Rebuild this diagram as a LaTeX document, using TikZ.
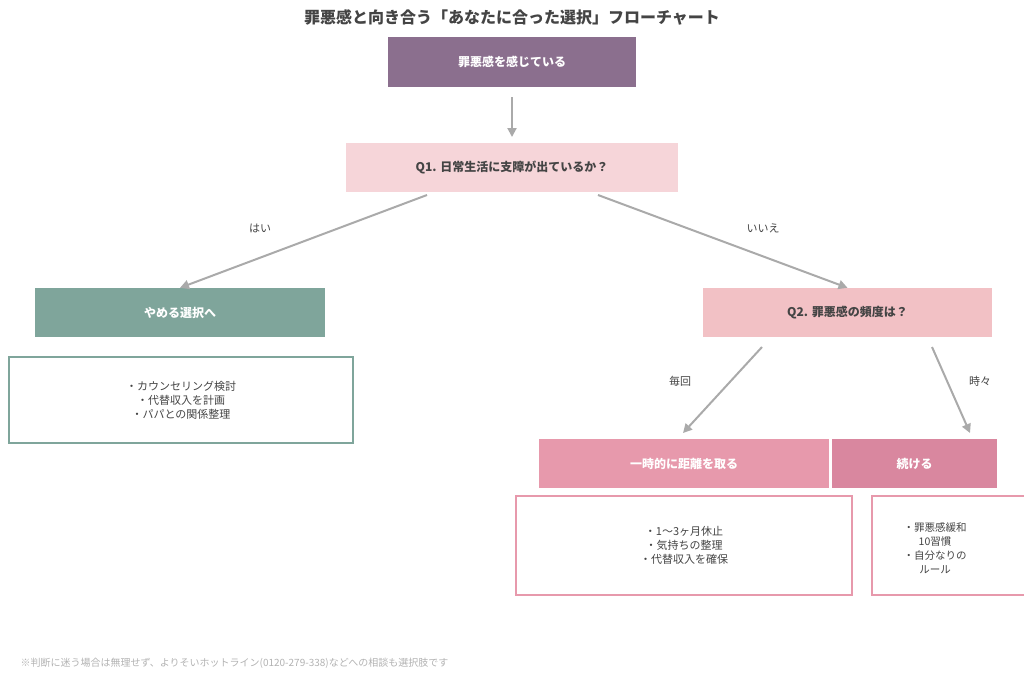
\documentclass[tikz,border=0pt]{standalone}
\usepackage{fontspec}
\setmainfont{Noto Sans CJK JP}
\usetikzlibrary{arrows.meta}
\definecolor{ink}{HTML}{444444}
\definecolor{plum}{HTML}{8B6F8E}
\definecolor{blush}{HTML}{F6D5D9}
\definecolor{rose}{HTML}{F2C1C5}
\definecolor{sage}{HTML}{7FA59B}
\definecolor{pinkA}{HTML}{E799AC}
\definecolor{pinkB}{HTML}{D9879F}
\definecolor{line}{HTML}{AAAAAA}
\tikzset{
  box/.style={rectangle, inner sep=0pt, font=\bfseries\fontsize{12}{14}\selectfont},
  note/.style={rectangle, fill=white, line width=2pt, inner sep=0pt, align=center,
    text=ink, font=\fontsize{11}{14}\selectfont},
  flow/.style={draw=line, line width=2pt, -{Triangle[length=9pt,width=9pt]}},
  tag/.style={text=ink, font=\fontsize{11}{13}\selectfont}
}
\begin{document}
\begin{tikzpicture}[x=1pt, y=-1pt]
\useasboundingbox (0,0) rectangle (1024,678);
%%% header %%%
\node[text=ink, font=\bfseries\fontsize{16}{18}\selectfont] (title) at (512,17)
  {罪悪感と向き合う「あなたに合った選択」フローチャート};
\node[box, fill=plum, text=white, minimum width=248pt, minimum height=50pt] (start) at (512,62) {罪悪感を感じている};
\node[box, fill=blush, text=ink, minimum width=332pt, minimum height=49pt] (q1) at (512,167.5) {Q1. 日常生活に支障が出ているか？};
%% yes branch
\node[box, fill=sage, text=white, minimum width=290pt, minimum height=49pt] (quit) at (180,312.5) {やめる選択へ};
\node[note, draw=sage, minimum width=344pt, minimum height=86pt] (quitnote) at (181,400)
  {・カウンセリング検討\\・代替収入を計画\\・パパとの関係整理};
%% no branch
\node[box, fill=rose, text=ink, minimum width=289pt, minimum height=49pt] (q2) at (847.5,312.5) {Q2. 罪悪感の頻度は？};
\node[box, fill=pinkA, text=white, minimum width=290pt, minimum height=49pt] (pause) at (684,463.5) {一時的に距離を取る};
\node[box, fill=pinkB, text=white, minimum width=165pt, minimum height=49pt] (keep) at (914.5,463.5) {続ける};
\node[note, draw=pinkA, minimum width=336pt, minimum height=99pt] (pausenote) at (684,545.5)
  {・1〜3ヶ月休止\\・気持ちの整理\\・代替収入を確保};
\node[note, draw=pinkA, minimum width=160pt, minimum height=99pt] (keepnote) at (952,545.5) {};
\node[tag, align=center, font=\fontsize{10.5}{14}\selectfont] (keeptext) at (935,548)
  {・罪悪感緩和\\10習慣\\・自分なりの\\ルール};
%% connectors
\coordinate (q1l) at (427,195);
\coordinate (q1r) at (598,195);
\coordinate (q2l) at (762,347);
\coordinate (q2r) at (932,347);
\draw[flow] (start) ++(0,35) -- ++(0,40);
\draw[flow] (q1l) -- (quit.north);
\draw[flow] (q1r) -- (q2.north);
\draw[flow] (q2l) -- (683,433);
\draw[flow] (q2r) -- (970,433);
\node[tag] (yes) at (260,228) {はい};
\node[tag] (no) at (763,228) {いいえ};
\node[tag] (every) at (680,381) {毎回};
\node[tag] (some) at (980,381) {時々};
%% footer
\node[anchor=west, text=black!30, font=\fontsize{10}{12}\selectfont] (foot) at (17,663)
  {※判断に迷う場合は無理せず、よりそいホットライン(0120-279-338)などへの相談も選択肢です};
\end{tikzpicture}
\end{document}
